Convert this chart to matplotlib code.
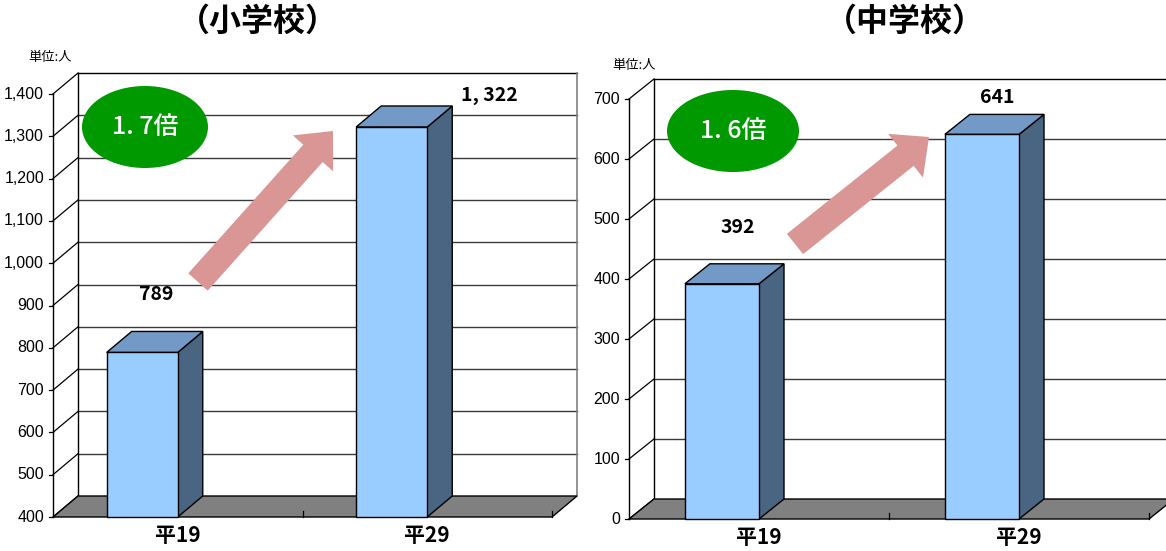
import matplotlib
matplotlib.use('Agg')
import matplotlib.pyplot as plt
from matplotlib.patches import Polygon, Rectangle, Ellipse, FancyArrow

plt.rcParams['font.family'] = ['Noto Sans CJK JP', 'DejaVu Sans']

DPI = 100
W, H = 1166, 551

# data
categories = ['平19', '平29']
elem_values = [789, 1322]
junior_values = [392, 641]
elem_ticks = [400, 500, 600, 700, 800, 900, 1000, 1100, 1200, 1300, 1400]
junior_ticks = [0, 100, 200, 300, 400, 500, 600, 700]

FRONT = '#99CCFF'
TOP = '#7399C6'
SIDE = '#4A6582'
FLOOR = '#808080'
GREEN = '#009900'
PINK = '#D99694'
NUM_FONT = ['Liberation Sans Narrow', 'Liberation Sans', 'DejaVu Sans']


def fmt_value(v):
    return f"{v:,}".replace(",", ", ")


def draw_panel(fig, box, ticks, values, depth, label_offsets):
    """box = (x_left, x_right, y_bottom, y_top) in pixels of the front plane."""
    x0, x1, yb, yt = box
    ymin, ymax = ticks[0], ticks[-1]
    ax = fig.add_axes([x0 / W, 1 - yb / H, (x1 - x0) / W, (yb - yt) / H])
    ax.set_xlim(0, len(values))
    ax.set_ylim(ymin, ymax)
    ax.axis('off')

    # pixel -> data unit conversion
    ux = len(values) / (x1 - x0)
    uy = (ymax - ymin) / (yb - yt)
    ddx, ddy = depth[0] * ux, depth[1] * uy
    n = len(values)

    # back wall
    ax.add_patch(Rectangle((ddx, ymin + ddy), n, ymax - ymin, fc='white',
                           ec='none', clip_on=False, zorder=1))
    for t in ticks[1:-1]:
        ax.plot([ddx, n + ddx], [t + ddy, t + ddy], color='#3a3a3a', lw=1,
                clip_on=False, zorder=2)
    ax.plot([ddx, n + ddx], [ymax + ddy, ymax + ddy], color='black', lw=1,
            clip_on=False, zorder=2)
    ax.plot([ddx, ddx], [ymin + ddy, ymax + ddy], color='black', lw=1,
            clip_on=False, zorder=2)
    ax.plot([n + ddx, n + ddx], [ymin + ddy, ymax + ddy], color='#808080',
            lw=1.2, clip_on=False, zorder=2)

    # side wall diagonals and value axis
    for t in ticks:
        ax.plot([0, ddx], [t, t + ddy], color='black', lw=0.9, clip_on=False,
                zorder=2)
        ax.plot([-4 * ux, 0], [t, t], color='black', lw=0.9, clip_on=False,
                zorder=2)
        ax.text(-9 * ux, t, f"{t:,}", ha='right', va='center', fontsize=11.5,
                family=NUM_FONT, clip_on=False)
    ax.plot([0, 0], [ymin, ymax], color='black', lw=1, clip_on=False, zorder=2)

    # floor
    ax.add_patch(Polygon([(0, ymin), (n, ymin), (n + ddx, ymin + ddy),
                          (ddx, ymin + ddy)], closed=True, fc=FLOOR,
                         ec='black', lw=1, clip_on=False, zorder=3))
    for i in range(1, n + 1):
        ax.plot([i, i], [ymin, ymin + 6 * uy], color='black', lw=0.9,
                clip_on=False, zorder=3)

    # bars
    for i, (cat, v) in enumerate(zip(categories, values)):
        bl, br = i + 0.215, i + 0.5
        ax.add_patch(Polygon([(br, ymin), (br + ddx, ymin + ddy),
                              (br + ddx, v + ddy), (br, v)], closed=True,
                             fc=SIDE, ec='black', lw=1, clip_on=False, zorder=4))
        ax.add_patch(Polygon([(bl, v), (br, v), (br + ddx, v + ddy),
                              (bl + ddx, v + ddy)], closed=True, fc=TOP,
                             ec='black', lw=1, clip_on=False, zorder=4))
        ax.add_patch(Rectangle((bl, ymin), br - bl, v - ymin, fc=FRONT,
                               ec='black', lw=1, clip_on=False, zorder=5))
        ax.annotate(cat, xy=(i + 0.5, ymin), xytext=(0, -18),
                    textcoords='offset pixels', ha='center', va='center',
                    fontsize=15, fontweight='bold', annotation_clip=False)
        ox, oy = label_offsets[i]
        ax.annotate(fmt_value(v), xy=((bl + br) / 2, v), xytext=(ox, oy),
                    textcoords='offset pixels', ha='center', va='center',
                    fontsize=14, fontweight='bold', annotation_clip=False)
    return ax


def ratio_text(values):
    r = values[1] / values[0]
    return f"{r:.1f}".replace('.', '. ') + '倍'


fig = plt.figure(figsize=(W / DPI, H / DPI), dpi=DPI)

draw_panel(fig, (53, 552, 517, 94), elem_ticks, elem_values, (25, 21),
           [(14, 58), (98, 31)])
draw_panel(fig, (629, 1149, 519, 99), junior_ticks, junior_values, (25, 20),
           [(16, 56), (15, 37)])

# overlay for titles, badges and arrows (pixel coordinates)
ov = fig.add_axes([0, 0, 1, 1])
ov.set_xlim(0, W)
ov.set_ylim(H, 0)
ov.axis('off')

ov.text(258, 22, '（小学校）', ha='center', va='center', fontsize=23,
        fontweight='bold')
ov.text(905, 22, '（中学校）', ha='center', va='center', fontsize=23,
        fontweight='bold')
ov.text(50, 58, '単位:人', ha='center', va='center', fontsize=9.5)
ov.text(634, 66, '単位:人', ha='center', va='center', fontsize=9.5)

ov.add_patch(Ellipse((145, 127), 126, 82, fc=GREEN, ec='none'))
ov.text(145, 127, ratio_text(elem_values), ha='center', va='center',
        fontsize=18, color='white', fontweight='medium')
ov.add_patch(Ellipse((733, 131), 132, 82, fc=GREEN, ec='none'))
ov.text(733, 131, ratio_text(junior_values), ha='center', va='center',
        fontsize=18, color='white', fontweight='medium')

ov.add_patch(FancyArrow(198, 282, 135, -151, width=26, head_width=54,
                        head_length=30, length_includes_head=True,
                        fc=PINK, ec='none'))
ov.add_patch(FancyArrow(795, 244, 134, -107, width=26, head_width=56,
                        head_length=30, length_includes_head=True,
                        fc=PINK, ec='none'))

fig.savefig('out.png', dpi=DPI)
